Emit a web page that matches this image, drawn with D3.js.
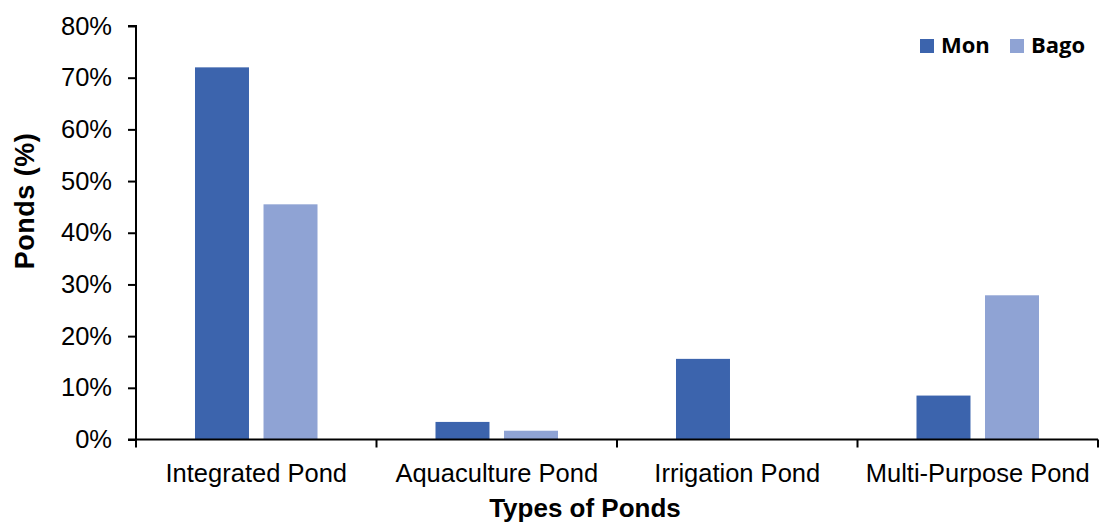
<!DOCTYPE html>
<html><head><meta charset="utf-8">
<script src="https://cdn.jsdelivr.net/npm/d3@7"></script>
<style>body{margin:0;background:#fff}svg{display:block}</style>
</head><body>
<svg id="c" width="1099" height="524"></svg>
<script>
const categories = ["Integrated Pond", "Aquaculture Pond", "Irrigation Pond", "Multi-Purpose Pond"];
const seriesNames = ["Mon", "Bago"];
const monValues = [72.0, 3.4, 15.6, 8.5];
const bagoValues = [45.5, 1.7, 0, 27.9];
const yTicks = [0, 10, 20, 30, 40, 50, 60, 70, 80];
const colors = ["#3C64AD", "#8FA3D4"];

const svg = d3.select("#c");
const x0 = d3.scaleBand().domain(categories).range([136, 1098]).paddingInner(0).paddingOuter(0);
const x1 = d3.scaleBand().domain(seriesNames).range([0, x0.bandwidth()]).paddingInner(0.212).paddingOuter(0.861);
const y = d3.scaleLinear().domain([0, 80]).range([439.5, 26]);

const data = categories.map((c, i) => ({c, vals: [monValues[i], bagoValues[i]]}));

const g = svg.append("g");
data.forEach(d => {
  d.vals.forEach((v, j) => {
    if (v <= 0) return;
    g.append("rect")
      .attr("x", x0(d.c) + x1(seriesNames[j]))
      .attr("y", y(v))
      .attr("width", x1.bandwidth())
      .attr("height", y(0) - y(v))
      .attr("fill", colors[j]);
  });
});

// y axis
const yAxis = svg.append("g").attr("transform", "translate(136,0)")
  .call(d3.axisLeft(y).tickValues(yTicks).tickFormat(d => d + "%").tickSize(8).tickPadding(16));
yAxis.select(".domain").attr("stroke", "#000").attr("stroke-width", 2).attr("d", `M-8,${y(80)}H0V${y(0)}`);
yAxis.selectAll(".tick line").attr("stroke", "#000").attr("stroke-width", 2);
yAxis.selectAll(".tick text").attr("font-family", "Liberation Sans, Arial, sans-serif").attr("font-size", 25.5).attr("fill", "#000");

// x axis
const xAxis = svg.append("g").attr("transform", `translate(0,${y(0)})`)
  .call(d3.axisBottom(x0).tickSize(0).tickPadding(24));
xAxis.select(".domain").remove();
svg.append("line").attr("x1", 128).attr("x2", 1098).attr("y1", y(0)).attr("y2", y(0)).attr("stroke", "#000").attr("stroke-width", 2);
const bounds = categories.map(c => x0(c)).concat([x0.range()[1]]);
svg.selectAll(".xt").data(bounds).enter().append("line")
  .attr("x1", d => d).attr("x2", d => d).attr("y1", y(0)).attr("y2", y(0) + 8)
  .attr("stroke", "#000").attr("stroke-width", 2);
xAxis.selectAll(".tick text").attr("font-family", "Liberation Sans, Arial, sans-serif").attr("font-size", 25.5).attr("fill", "#000").attr("dy", "0.71em");

// axis titles
svg.append("text").attr("x", 585).attr("y", 517).attr("text-anchor", "middle")
  .attr("font-family", "Liberation Sans, Arial, sans-serif").attr("font-weight", "bold").attr("font-size", 26)
  .text("Types of Ponds");
svg.append("text").attr("transform", "translate(34,201) rotate(-90)").attr("text-anchor", "middle")
  .attr("font-family", "Liberation Sans, Arial, sans-serif").attr("font-weight", "bold").attr("font-size", 27)
  .attr("letter-spacing", 0.5)
  .text("Ponds (%)");

// legend
const leg = svg.append("g");
const legX = [920, 1010];
seriesNames.forEach((s, j) => {
  leg.append("rect").attr("x", legX[j]).attr("y", 39).attr("width", 14).attr("height", 14).attr("fill", colors[j]);
  leg.append("text").attr("x", legX[j] + 21).attr("y", 53).attr("font-family", "Open Sans, sans-serif")
    .attr("font-weight", "bold").attr("font-size", 22).attr("fill", "#000").text(s);
});
</script>
</body></html>
